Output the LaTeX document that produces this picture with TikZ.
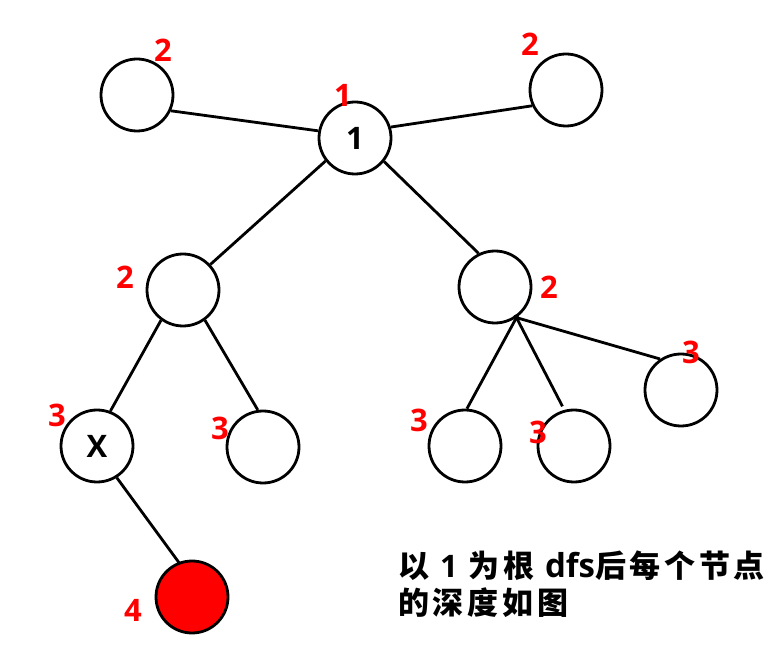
\documentclass[tikz,border=0pt]{standalone}
\usepackage{fontspec}
\setmainfont{Open Sans}
\newfontfamily\cjkfont[LetterSpace=12]{Noto Sans CJK SC}
\newfontfamily\latinbold{Open Sans}
\begin{document}
\begin{tikzpicture}[x=1pt,y=-1pt,
  circ/.style={circle,draw=black,line width=2.8pt,minimum size=72pt,inner sep=0pt,fill=white},
  lbl/.style={text=red,font=\fontsize{31}{32}\selectfont\bfseries,inner sep=0pt},
  inl/.style={font=\fontsize{31}{32}\selectfont\bfseries,inner sep=0pt},
  edge/.style={line width=2.8pt,draw=black}]
\useasboundingbox (0,0) rectangle (780,660);
\node[circ] (a) at (137,95) {};
\node[circ] (root) at (355,138) {};
\node[inl] at (root) {1};
\node[circ] (b) at (566,90) {};
\node[circ] (c) at (183,290) {};
\node[circ] (d) at (495,287) {};
\node[circ] (x) at (97,446) {};
\node[inl] at (x) {X};
\node[circ] (e) at (263,447) {};
\node[circ] (f) at (465,446) {};
\node[circ] (g) at (574,446) {};
\node[circ] (h) at (681,390) {};
\node[circ,fill=red] (r) at (192,597) {};

\draw[edge] (a.-25) -- (root.169);
\draw[edge] (root.17) -- (b.205);
\draw[edge] (root.218) -- (c.43);
\draw[edge] (root.321) -- (d.116);
\draw[edge] (c.234) -- (x.69);
\draw[edge] (c.306) -- (e.98);
\draw[edge,shorten <=-3pt] (d.-55) -- (f.87);
\draw[edge,shorten <=-3pt,shorten >=4pt] (d.-55) -- (g.105);
\draw[edge,shorten <=-3pt] (d.-55) -- (h.124);
\draw[edge,shorten >=-2pt] (x.302) -- (r.111);

\node[lbl] (l1) at (163,50) {2};
\node[lbl] (l2) at (343,95) {1};
\node[lbl] (l3) at (530,44) {2};
\node[lbl] (l4) at (125,277) {2};
\node[lbl] (l5) at (549,287) {2};
\node[lbl] (l6) at (57,415) {3};
\node[lbl] (l7) at (220,428) {3};
\node[lbl] (l8) at (419,420) {3};
\node[lbl] (l9) at (538,432) {3};
\node[lbl] (l10) at (691,352) {3};
\node[lbl] (l11) at (133,610) {4};

\node[anchor=north west,align=left,inner sep=0pt,font=\cjkfont\bfseries\fontsize{31}{37}\selectfont] (t) at (398,551) {以 {\latinbold\bfseries 1} 为根 {\latinbold\bfseries\fontsize{33}{37}\selectfont dfs}后每个节点\\的深度如图};
\end{tikzpicture}
\end{document}
